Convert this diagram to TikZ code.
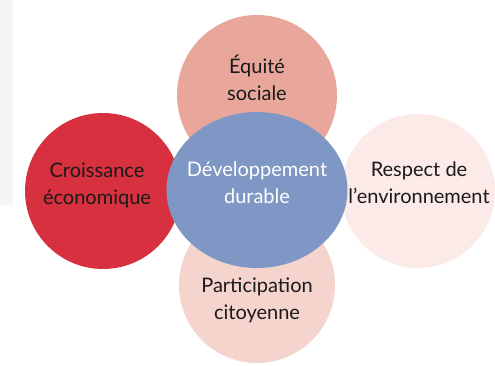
\documentclass[tikz,border=0pt]{standalone}
\usepackage{fontspec}
\setmainfont{Lato}
\usetikzlibrary{shapes.geometric}
\definecolor{cTop}{HTML}{E9A79C}
\definecolor{cLeft}{HTML}{D7303F}
\definecolor{cRight}{HTML}{FBEAE7}
\definecolor{cBot}{HTML}{F5D4CE}
\definecolor{cMid}{HTML}{7F97C4}
\definecolor{cBand}{HTML}{F5F5F5}
\definecolor{cText}{HTML}{1A1A1A}
\begin{document}
\begin{tikzpicture}[x=1pt,y=-1pt,
  bubble/.style={circle,inner sep=0pt,minimum size=#1},
  lbl/.style={align=center,font=\fontsize{20}{27}\selectfont,text=cText,inner sep=0pt}]
\useasboundingbox (0,0) rectangle (495,366);
\fill[cBand] (0,0) rectangle (13,205);
\node[bubble=160pt,fill=cTop] (top) at (257,95) {};
\node[bubble=156pt,fill=cBot] (bot) at (257,285) {};
\node[bubble=156pt,fill=cLeft] (left) at (103,191) {};
\node[bubble=154pt,fill=cRight] (right) at (418,191) {};
\node[ellipse,inner sep=0pt,minimum width=181pt,minimum height=156pt,fill=cMid] (mid) at (257,190) {};
\node[lbl] (tTop) at (257,78) {Équité\\sociale};
\node[lbl] (tLeft) at (97,185) {Croissance\\économique};
\node[lbl,text=white] (tMid) at (257,183) {Développement\\durable};
\node[lbl] (tRight) at (419,183) {Respect de\\l’environnement};
\node[lbl] (tBot) at (257,300) {Participation\\citoyenne};
\end{tikzpicture}
\end{document}
